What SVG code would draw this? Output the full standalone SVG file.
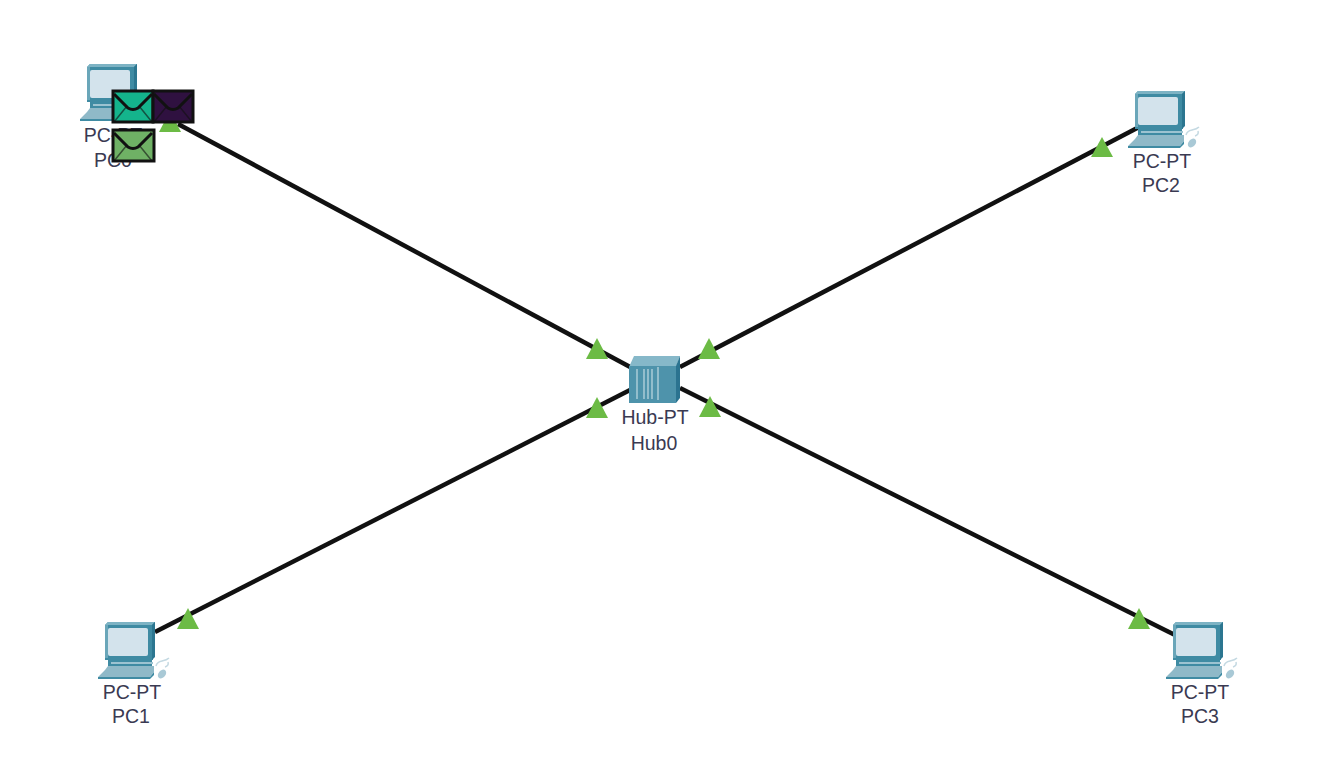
<svg xmlns="http://www.w3.org/2000/svg" width="1337" height="767" viewBox="0 0 1337 767">
<style>
text{font-family:"Liberation Sans",Arial,sans-serif;font-size:19.5px;fill:#3a3a52;text-anchor:middle}
.link{stroke:#111;stroke-width:4.5;fill:none}
.tri{fill:#6cbb45}
.env{stroke:#111;stroke-width:3}
.flap{fill:none;stroke:#111;stroke-width:3}
.fold{fill:none;stroke:#111;stroke-width:1.5;opacity:.6}
</style>
<defs>
<symbol id="pc" overflow="visible">
<path d="M-3 3 L0 0 H47 V3 L45 5 V38 H-3Z" fill="#3f8ba3"/>
<path d="M-3 3 L0 0 H47 L44 3Z" fill="#7db3c4"/>
<path d="M44 3 L47 0 V35 L44 38Z" fill="#2c7690"/>
<rect x="0" y="6" width="40" height="28" rx="2" fill="#d3e3ec"/>
<rect x="-3" y="3" width="3" height="33" fill="#6aa6b9"/>
<path d="M0 36 H44 V44 H0Z" fill="#3f8ba3"/>
<path d="M3 40 H45 V42 H3Z" fill="#9cc3d1"/>
<path d="M0 44 H46 L46 50 L42 55 H-10 L-3 48Z" fill="#8fb9c8"/>
<path d="M-10 55 H42 L46 50 V53 L42 57 H-10Z" fill="#3f8ba3"/>
<path d="M48 44 q1 -4 6 -5 q5 -1 7 -3 M57 45 q4 -1 3 -5" fill="none" stroke="#c4d9e2" stroke-width="1.5"/>
<ellipse cx="54" cy="52" rx="3.5" ry="5" transform="rotate(40 54 52)" fill="#a9c9d6"/>
</symbol>
<symbol id="envelope" overflow="visible">
<path class="fold" d="M1 31 L14 15 M39 31 L26 15"/>
<path class="flap" d="M1 3 L15 17 Q20 20 25 17 L39 3"/>
</symbol>
</defs>
<rect width="1337" height="767" fill="#fff"/>
<g id="connectors">
<line class="link" x1="178" y1="124" x2="632" y2="368"/>
<line class="link" x1="1141" y1="126" x2="680" y2="367"/>
<line class="link" x1="155" y1="632" x2="632" y2="389"/>
<line class="link" x1="1175" y1="635" x2="680" y2="388"/>
<polygon class="tri" points="170,111 159,132 181,132"/>
<polygon class="tri" points="1102,137 1091,157 1113,157"/>
<polygon class="tri" points="188,608 177,629 199,629"/>
<polygon class="tri" points="1139,608 1128,629 1150,629"/>
<polygon class="tri" points="597,338 586,359 608,359"/>
<polygon class="tri" points="709,338 698,359 720,359"/>
<polygon class="tri" points="597,397 586,418 608,418"/>
<polygon class="tri" points="710,396 699,417 721,417"/>
</g>
<g id="PC0">
<use href="#pc" x="90" y="64"/>
<text x="113" y="142">PC-PT</text>
<text x="113" y="167">PC0</text>
</g>
<g id="PC1">
<use href="#pc" x="108" y="622"/>
<text x="132" y="699">PC-PT</text>
<text x="131" y="723">PC1</text>
</g>
<g id="PC2">
<use href="#pc" x="1138" y="91"/>
<text x="1162" y="168">PC-PT</text>
<text x="1161" y="192">PC2</text>
</g>
<g id="PC3">
<use href="#pc" x="1176" y="622"/>
<text x="1200" y="699">PC-PT</text>
<text x="1200" y="723">PC3</text>
</g>
<g id="Hub0">
<path d="M629 367 L634 356 H680 L676 367Z" fill="#86b8c9"/>
<path d="M676 366 L680 356 V398 L676 403Z" fill="#2b7390"/>
<rect x="629" y="366" width="47" height="37" fill="#4e93ab"/>
<path d="M637 369 V399 M644 369 V399 M648 369 V399 M652 369 V399 M658 367 V400" stroke="#b7d4de" stroke-width="1.3" fill="none"/>
<text x="655" y="424">Hub-PT</text>
<text x="654" y="450">Hub0</text>
</g>
<g id="pdu-envelopes">
<rect class="env" x="113" y="91" width="40" height="31" fill="#14b48c"/>
<use href="#envelope" x="113" y="91"/>
<rect class="env" x="153" y="91" width="40" height="31" fill="#2f1140"/>
<use href="#envelope" x="153" y="91"/>
<rect class="env" x="113" y="130" width="41" height="31" fill="#6fb165"/>
<use href="#envelope" x="113" y="130"/>
</g>
</svg>
